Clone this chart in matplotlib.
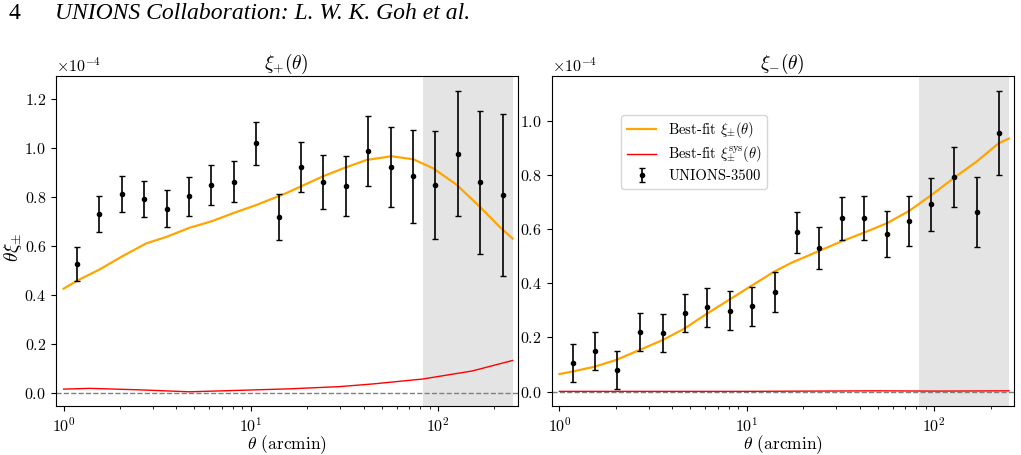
import matplotlib
matplotlib.use("Agg")
import matplotlib.pyplot as plt
import numpy as np

plt.rcParams['font.family'] = 'serif'
plt.rcParams['font.serif'] = ['cmr10', 'DejaVu Serif']
plt.rcParams['mathtext.fontset'] = 'cm'
plt.rcParams['axes.formatter.use_mathtext'] = True
plt.rcParams['font.size'] = 11

# ---------------- data (values in units of 1e-4) ----------------
theta = [1.18, 1.55, 2.04, 2.69, 3.55, 4.67, 6.15, 8.10, 10.7, 14.1,
         18.5, 24.4, 32.1, 42.3, 55.7, 73.4, 96.6, 127, 168, 221]

xip = [0.527, 0.729, 0.813, 0.791, 0.752, 0.802, 0.847, 0.862, 1.019, 0.718,
       0.922, 0.862, 0.845, 0.988, 0.921, 0.884, 0.849, 0.977, 0.860, 0.807]
xip_err = [0.070, 0.073, 0.073, 0.075, 0.076, 0.078, 0.082, 0.083, 0.087, 0.092,
           0.101, 0.110, 0.123, 0.142, 0.163, 0.190, 0.220, 0.255, 0.292, 0.330]

xim = [0.105, 0.150, 0.080, 0.221, 0.215, 0.290, 0.311, 0.299, 0.315, 0.369,
       0.588, 0.529, 0.640, 0.640, 0.582, 0.629, 0.691, 0.791, 0.662, 0.955]
xim_err = [0.070, 0.069, 0.070, 0.070, 0.070, 0.071, 0.071, 0.071, 0.072, 0.074,
           0.075, 0.078, 0.079, 0.082, 0.086, 0.092, 0.099, 0.111, 0.129, 0.155]

# best-fit model curves
th_fit_p = [1.0, 1.18, 1.56, 2.04, 2.76, 3.55, 4.7, 6.15, 8.0, 10.7, 15.4,
            24.4, 32.0, 41.5, 56.4, 73.6, 94, 125, 167, 213, 250]
fit_p = [0.425, 0.458, 0.504, 0.556, 0.610, 0.637, 0.674, 0.700, 0.733, 0.767,
         0.815, 0.885, 0.920, 0.951, 0.966, 0.954, 0.917, 0.851, 0.760, 0.678, 0.630]

th_fit_m = [1.0, 1.17, 1.54, 2.01, 2.68, 3.57, 4.68, 6.1, 8.13, 10.6, 14.0,
            17.1, 24.4, 32.1, 42.2, 55.7, 73.4, 96.7, 128, 168, 221, 250]
fit_m = [0.065, 0.074, 0.092, 0.117, 0.154, 0.191, 0.234, 0.287, 0.341, 0.391,
         0.443, 0.474, 0.520, 0.555, 0.587, 0.621, 0.667, 0.726, 0.790, 0.849,
         0.917, 0.934]

# systematics model curves
th_sys_p = [1.0, 1.38, 2.54, 4.7, 8.7, 16, 29.6, 44.7, 82.5, 152, 250]
sys_p = [0.015, 0.018, 0.012, 0.004, 0.010, 0.016, 0.025, 0.036, 0.056, 0.089, 0.132]

th_sys_m = [1.0, 10, 50, 100, 250]
sys_m = [0.001, 0.001, 0.003, 0.002, 0.003]

scale_cut = [83, 250]

scale = 1e-4

fig = plt.figure(figsize=(10.21, 4.55), dpi=100)
ax1 = fig.add_axes([0.0548, 0.1077, 0.4522, 0.7253])
ax2 = fig.add_axes([0.5404, 0.1077, 0.4527, 0.7253])

panels = [
    (ax1, xip, xip_err, th_fit_p, fit_p, th_sys_p, sys_p, r'$\xi_{+}(\theta)$', (-0.054, 1.294)),
    (ax2, xim, xim_err, th_fit_m, fit_m, th_sys_m, sys_m, r'$\xi_{-}(\theta)$', (-0.053, 1.165)),
]

for ax, y, yerr, tf, yf, ts, ys, title, ylim in panels:
    ax.axvspan(scale_cut[0], scale_cut[1], color='lightgray', alpha=0.6, lw=0)
    ax.axhline(0, color='gray', ls='--', lw=1)
    ax.plot(tf, np.array(yf) * scale, color='orange', lw=1.6,
            label=r'Best-fit $\xi_{\pm}(\theta)$')
    ax.plot(ts, np.array(ys) * scale, color='red', lw=1,
            label=r'Best-fit $\xi_{\pm}^{\rm sys}(\theta)$')
    ax.errorbar(theta, np.array(y) * scale, yerr=np.array(yerr) * scale,
                fmt='o', color='black', ms=3, capsize=2, elinewidth=1.2,
                label='UNIONS-3500')
    ax.set_xscale('log')
    ax.set_xlim(0.91, 266)
    ax.set_ylim(ylim[0] * scale, ylim[1] * scale)
    ax.ticklabel_format(style='sci', axis='y', scilimits=(0, 0))
    ax.yaxis.get_offset_text().set_fontsize(11.5)
    ax.set_xlabel(r'$\theta$ (arcmin)', fontsize=12.5, labelpad=-1)
    ax.set_title(title, fontsize=14, pad=1)
    ax.tick_params(labelsize=11.5)
    ax.tick_params(axis='x', pad=4)

ax1.set_ylabel(r'$\theta\xi_{\pm}$', fontsize=14)
ax1.yaxis.set_label_coords(-0.07, 0.48)

ax2.legend(loc='upper left', bbox_to_anchor=(0.135, 0.905), fontsize=10.5,
           framealpha=0.8, labelspacing=0.3)

fig.text(0.008, 0.958, '4', fontsize=17, family='Liberation Serif')
fig.text(0.054, 0.958, 'UNIONS Collaboration: L. W. K. Goh et al.', fontsize=17,
         family='Liberation Serif', style='italic')

fig.savefig('out.png', dpi=100)
